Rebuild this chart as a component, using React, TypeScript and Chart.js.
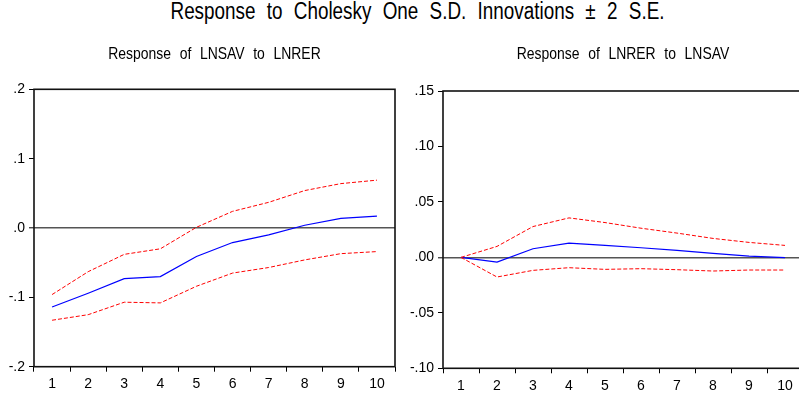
import React, { useEffect, useRef } from 'react';
import { Chart, registerables } from 'chart.js';

Chart.register(...registerables);

const mainTitle = 'Response to Cholesky One S.D. Innovations \u00B1 2 S.E.';
const leftTitle = 'Response of LNSAV to LNRER';
const rightTitle = 'Response of LNRER to LNSAV';

const periods = ['1', '2', '3', '4', '5', '6', '7', '8', '9', '10'];

const leftResponse = [-0.114, -0.094, -0.073, -0.070, -0.041, -0.021, -0.010, 0.004, 0.014, 0.017];
const leftUpper = [-0.096, -0.063, -0.038, -0.030, 0.001, 0.024, 0.037, 0.054, 0.064, 0.069];
const leftLower = [-0.133, -0.125, -0.107, -0.108, -0.084, -0.065, -0.057, -0.046, -0.037, -0.034];
const leftTicks = [-0.2, -0.1, 0.0, 0.1, 0.2];

const rightResponse = [0, -0.0042, 0.0078, 0.0129, 0.0108, 0.0087, 0.0063, 0.0036, 0.0012, -0.0003];
const rightUpper = [0, 0.0099, 0.0278, 0.0356, 0.0314, 0.0263, 0.0219, 0.0171, 0.0135, 0.0108];
const rightLower = [0, -0.0177, -0.0117, -0.0093, -0.0108, -0.0102, -0.0111, -0.0123, -0.0114, -0.0114];
const rightTicks = [-0.10, -0.05, 0.0, 0.05, 0.10, 0.15];

const FONT = "'Liberation Sans', Arial, sans-serif";
const CONDENSE = 0.82;

const fmt = (v: number, d: number) => {
  const s = v.toFixed(d);
  return s.replace(/^(-?)0\./, '$1.');
};

const framePlugin = {
  id: 'frame',
  afterDatasetsDraw(chart: any) {
    const { ctx, chartArea } = chart;
    ctx.save();
    ctx.strokeStyle = '#111';
    ctx.lineWidth = 1.6;
    ctx.strokeRect(chartArea.left, chartArea.top, chartArea.right - chartArea.left, chartArea.bottom - chartArea.top);
    ctx.restore();
  },
};

const panelTitlePlugin = {
  id: 'panelTitle',
  afterDraw(chart: any, _args: any, opts: any) {
    const { ctx, chartArea } = chart;
    ctx.save();
    ctx.font = `17px ${FONT}`;
    ctx.fillStyle = '#000';
    ctx.textAlign = 'center';
    ctx.textBaseline = 'middle';
    (ctx as any).wordSpacing = '5.8px';
    const cx = (chartArea.left + chartArea.right) / 2;
    ctx.translate(cx, opts.y);
    ctx.scale(CONDENSE, 1);
    ctx.fillText(opts.text, 0, 0);
    ctx.restore();
  },
};

function makeConfig(
  title: string,
  resp: number[],
  upper: number[],
  lower: number[],
  ticks: number[],
  decimals: number,
  yWidth: number,
  xHeight: number,
  padTop: number,
  padRight: number
): any {
  const dashed = (data: number[]) => ({
    data,
    borderColor: '#ff0000',
    borderWidth: 1,
    borderDash: [4, 2],
    pointRadius: 0,
    tension: 0,
    fill: false,
  });
  return {
    type: 'line',
    data: {
      labels: periods,
      datasets: [
        dashed(upper),
        dashed(lower),
        { data: resp, borderColor: '#0000ff', borderWidth: 1.2, pointRadius: 0, tension: 0, fill: false },
      ],
    },
    options: {
      animation: false,
      responsive: false,
      devicePixelRatio: 1,
      layout: { padding: { top: padTop, left: 0, right: padRight, bottom: 0 } },
      plugins: {
        legend: { display: false },
        tooltip: { enabled: false },
        title: { display: false },
        panelTitle: { text: title, y: 54 },
      },
      scales: {
        x: {
          type: 'category',
          offset: true,
          border: { display: false },
          grid: { offset: true, drawOnChartArea: false, drawTicks: true, tickLength: 5, tickColor: '#000', tickWidth: 1 },
          ticks: { color: '#000', font: { family: FONT, size: 14 }, padding: 4, maxRotation: 0, autoSkip: false },
          afterFit(scale: any) {
            scale.height = xHeight;
          },
        },
        y: {
          min: ticks[0],
          max: ticks[ticks.length - 1],
          border: { display: false },
          afterBuildTicks(scale: any) {
            scale.ticks = ticks.map((v) => ({ value: v }));
          },
          grid: {
            drawOnChartArea: true,
            drawTicks: true,
            tickLength: 5,
            tickColor: '#000',
            tickWidth: 1,
            color: (ctx: any) => (ctx.tick && Math.abs(ctx.tick.value) < 1e-9 ? '#555' : 'rgba(0,0,0,0)'),
            lineWidth: (ctx: any) => (ctx.tick && Math.abs(ctx.tick.value) < 1e-9 ? 1.6 : 1),
          },
          ticks: {
            color: '#000',
            font: { family: FONT, size: 14 },
            padding: 4,
            callback: (v: any) => fmt(Number(v), decimals),
          },
          afterFit(scale: any) {
            scale.width = yWidth;
          },
        },
      },
    },
    plugins: [framePlugin, panelTitlePlugin],
  };
}

function Panel(props: { cfg: any; left: number; width: number }) {
  const ref = useRef<HTMLCanvasElement>(null);
  useEffect(() => {
    if (!ref.current) return;
    const chart = new Chart(ref.current, props.cfg);
    return () => chart.destroy();
  }, []);
  return (
    <canvas
      ref={ref}
      width={props.width}
      height={399}
      style={{ position: 'absolute', left: props.left, top: 0, width: props.width, height: 399, display: 'block' }}
    />
  );
}

export default function App() {
  const leftCfg = makeConfig(leftTitle, leftResponse, leftUpper, leftLower, leftTicks, 1, 34, 32.3, 89.3, 5);
  const rightCfg = makeConfig(rightTitle, rightResponse, rightUpper, rightLower, rightTicks, 2, 43, 30.7, 91, 0);
  return (
    <div
      style={{
        position: 'fixed',
        left: 0,
        top: 0,
        width: 799,
        height: 399,
        overflow: 'hidden',
        background: '#fff',
      }}
    >
      <div
        style={{
          position: 'absolute',
          left: 0,
          top: 0,
          width: 835,
          textAlign: 'center',
          fontFamily: FONT,
          fontSize: 23,
          lineHeight: '23px',
          wordSpacing: 7.4,
          color: '#000',
          whiteSpace: 'nowrap',
          transform: `scaleX(${CONDENSE})`,
          transformOrigin: '417.5px 50%',
        }}
      >
        {mainTitle}
      </div>
      <Panel cfg={leftCfg} left={0} width={400} />
      <Panel cfg={rightCfg} left={400} width={403} />
    </div>
  );
}
